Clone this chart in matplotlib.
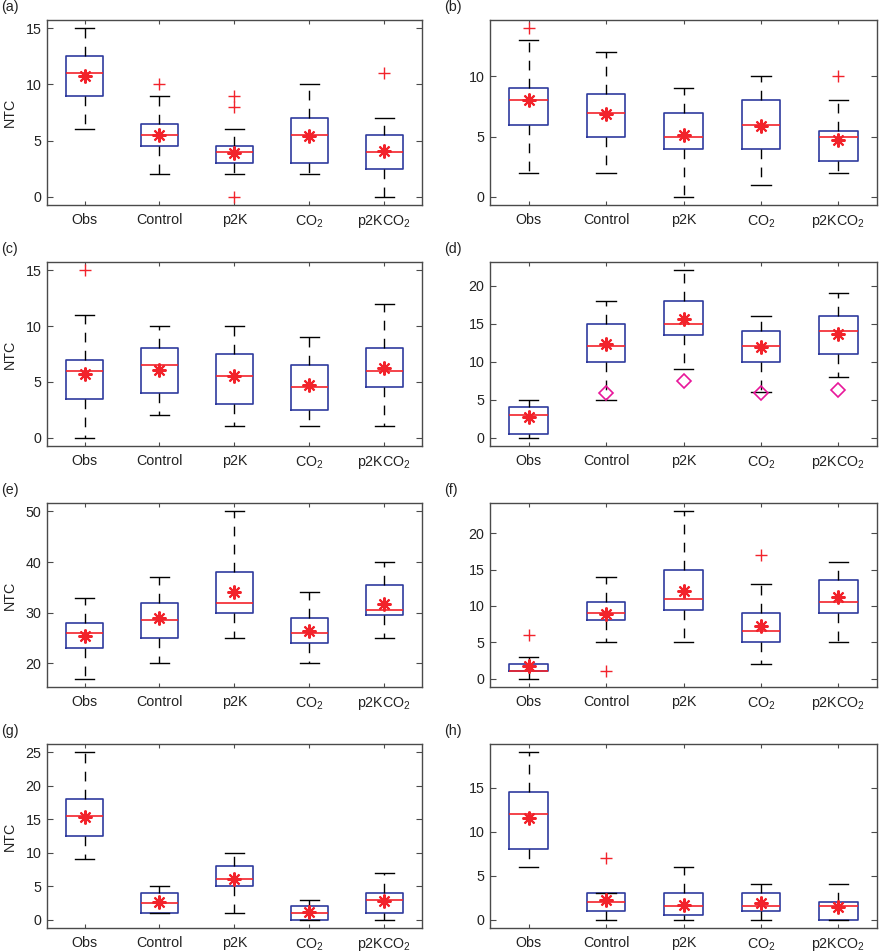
import matplotlib
matplotlib.use("Agg")
import matplotlib.pyplot as plt

plt.rcParams['font.family'] = ['Liberation Sans', 'DejaVu Sans']
plt.rcParams['mathtext.default'] = 'regular'

groups = ["Obs", "Control", "p2K", r"CO$_2$", r"p2KCO$_2$"]
panels = ["(a)", "(b)", "(c)", "(d)", "(e)", "(f)", "(g)", "(h)"]

# per panel: lower whisker, q1, median, q3, upper whisker, mean, outliers
whislo = [
    [6, 2, 2, 2, 0],
    [2, 2, 0, 1, 2],
    [0, 2, 1, 1, 1],
    [0, 5, 9, 6, 8],
    [17, 20, 25, 20, 25],
    [0, 5, 5, 2, 5],
    [9, 1, 1, 0, 0],
    [6, 0, 0, 0, 0],
]
q1 = [
    [9, 4.5, 3, 3, 2.5],
    [6, 5, 4, 4, 3],
    [3.5, 4, 3, 2.5, 4.5],
    [0.5, 10, 13.5, 10, 11],
    [23, 25, 30, 24, 29.5],
    [1, 8, 9.5, 5, 9],
    [12.5, 1, 5, 0, 1],
    [8, 1, 0.5, 1, 0],
]
med = [
    [11, 5.5, 4, 5.5, 4],
    [8, 7, 5, 6, 5],
    [6, 6.5, 5.5, 4.5, 6],
    [3, 12, 15, 12, 14],
    [26, 28.5, 32, 26, 30.5],
    [1, 9, 11, 6.5, 10.5],
    [15.5, 2.5, 6, 1, 3],
    [12, 2, 1.5, 1.5, 1.5],
]
q3 = [
    [12.5, 6.5, 4.5, 7, 5.5],
    [9, 8.5, 7, 8, 5.5],
    [7, 8, 7.5, 6.5, 8],
    [4, 15, 18, 14, 16],
    [28, 32, 38, 29, 35.5],
    [2, 10.5, 15, 9, 13.5],
    [18, 4, 8, 2, 4],
    [14.5, 3, 3, 3, 2],
]
whishi = [
    [15, 9, 6, 10, 7],
    [13, 12, 9, 10, 8],
    [11, 10, 10, 9, 12],
    [5, 18, 22, 16, 19],
    [33, 37, 50, 34, 40],
    [3, 14, 23, 13, 16],
    [25, 5, 10, 3, 7],
    [19, 3, 6, 4, 4],
]
means = [
    [10.8, 5.5, 3.9, 5.4, 4.1],
    [8.0, 6.9, 5.1, 5.9, 4.7],
    [5.75, 6.1, 5.5, 4.7, 6.2],
    [2.75, 12.3, 15.6, 11.95, 13.6],
    [25.5, 28.9, 34.0, 26.3, 31.8],
    [1.7, 8.9, 12.1, 7.3, 11.2],
    [15.4, 2.6, 6.1, 1.1, 2.8],
    [11.5, 2.25, 1.7, 1.85, 1.4],
]
outliers = [
    [[], [10], [0, 8, 9], [], [11]],
    [[14], [], [], [], [10]],
    [[15], [], [], [], []],
    [[], [], [], [], []],
    [[], [], [], [], []],
    [[6], [1], [], [17], []],
    [[], [], [], [], []],
    [[], [7], [], [], []],
]
# extra diamond markers in panel (d)
diamond_pos = [2, 3, 4, 5]
diamond_val = [5.9, 7.5, 5.85, 6.2]

ylims = [(-0.75, 15.75), (-0.7, 14.7), (-0.75, 15.75), (-1.1, 23.1),
         (15.35, 51.65), (-1.15, 24.15), (-1.25, 26.25), (-0.95, 19.95)]
yticks = [[0, 5, 10, 15], [0, 5, 10], [0, 5, 10, 15], [0, 5, 10, 15, 20],
          [20, 30, 40, 50], [0, 5, 10, 15, 20], [0, 5, 10, 15, 20, 25],
          [0, 5, 10, 15]]

W, H = 882, 952
fig = plt.figure(figsize=(W / 100, H / 100), dpi=100)

col_x = [(47, 422), (490, 877)]
row_y = [(20, 205), (262, 446), (503, 687), (744, 928)]

box_col = '#2f3b9e'
red = '#f2232b'
axis_col = '#4a4a4a'
txt_col = '#222222'
fs = 10.3

for i in range(8):
    r, c = divmod(i, 2)
    x0, x1 = col_x[c]
    y0, y1 = row_y[r]
    ax = fig.add_axes([x0 / W, 1 - y1 / H, (x1 - x0) / W, (y1 - y0) / H])

    stats = []
    for j in range(5):
        stats.append(dict(whislo=whislo[i][j], q1=q1[i][j], med=med[i][j],
                          q3=q3[i][j], whishi=whishi[i][j], mean=means[i][j],
                          fliers=outliers[i][j]))
    ax.bxp(stats, positions=range(1, 6), widths=0.5, capwidths=0.25,
           showmeans=True,
           boxprops=dict(color=box_col, linewidth=1.2),
           medianprops=dict(color=red, linewidth=1.2),
           whiskerprops=dict(color='black', linewidth=1.0, linestyle=(0, (7, 6))),
           capprops=dict(color='black', linewidth=1.0),
           flierprops=dict(marker='+', markeredgecolor=red, markersize=8,
                           markeredgewidth=1.0, linestyle='none'),
           meanprops=dict(marker=(8, 2, 0), markeredgecolor=red,
                          markerfacecolor=red, markersize=10,
                          markeredgewidth=1.5, linestyle='none'))

    if i == 3:
        ax.plot(diamond_pos, diamond_val, linestyle='none', marker='D',
                markersize=7, markerfacecolor='none',
                markeredgecolor='#e8179a', markeredgewidth=1.2)

    ax.set_xlim(0.5, 5.5)
    ax.set_ylim(*ylims[i])
    ax.set_yticks(yticks[i])
    ax.set_xticks(range(1, 6))
    ax.set_xticklabels(groups)
    ax.tick_params(axis='y', direction='in', left=True, right=True,
                   length=4, width=0.8, color=axis_col, labelsize=fs,
                   labelcolor=txt_col, pad=4)
    ax.tick_params(axis='x', direction='in', top=True, bottom=True,
                   length=3, width=0.8, color=axis_col, labelsize=fs,
                   labelcolor=txt_col, pad=6)
    for s in ax.spines.values():
        s.set_color(axis_col)
        s.set_linewidth(1.0)
    if c == 0:
        ax.set_ylabel("NTC", fontsize=fs, color=txt_col, labelpad=6)

    lx = 1 if c == 0 else 444
    fig.text(lx / W, 1 - (y0 - 13) / H, panels[i], fontsize=fs,
             color=txt_col, ha='left', va='center')

fig.savefig("out.png", dpi=100)
